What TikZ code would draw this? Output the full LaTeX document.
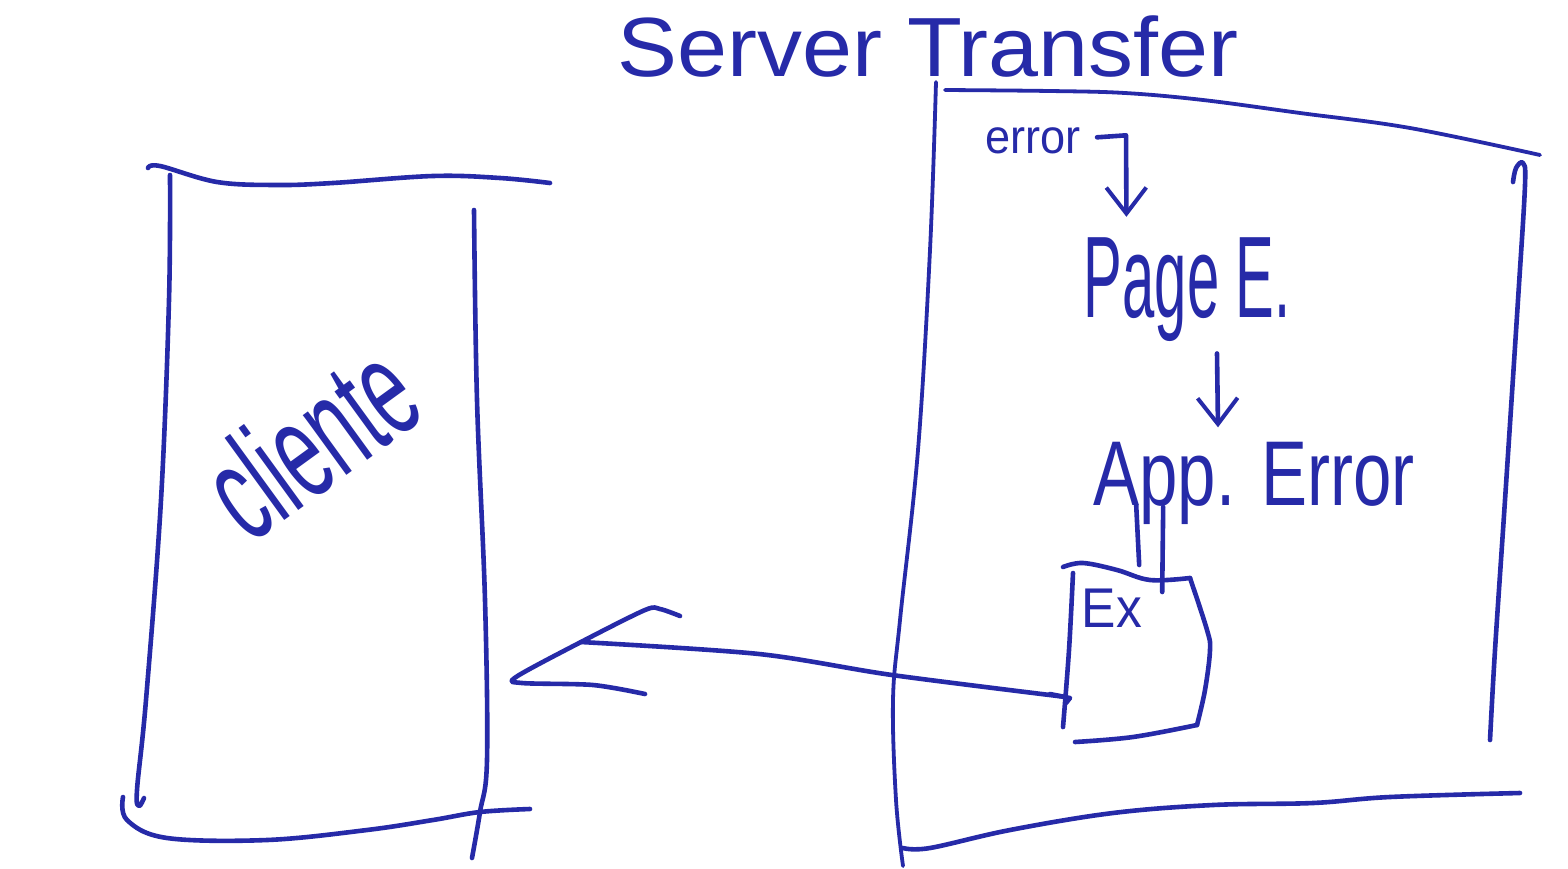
\documentclass[tikz,border=0pt]{standalone}
\usepackage{fontspec}
\setmainfont{Liberation Sans}
\usetikzlibrary{arrows.meta,calc}
\definecolor{ink}{RGB}{38,42,168}
\begin{document}
\begin{tikzpicture}[x=0.5pt,y=-0.5pt,
  pen/.style={draw=ink,line width=2.3pt,line cap=round,line join=round},
  thinpen/.style={draw=ink,line width=1.9pt,line cap=round,line join=round},
  lbl/.style={text=ink,inner sep=0pt,anchor=base},
  barb/.style={pen,-{Straight Barb[length=13pt,width=20pt,line width=2pt]}}]
\useasboundingbox (0,0) rectangle (1568,868);
\fill[white] (0,0) rectangle (1568,868);

% ---------- layout nodes (invisible) ----------
\node[inner sep=0pt,minimum width=150pt,minimum height=320pt] (client) at (312,505) {};
\node[inner sep=0pt,minimum width=300pt,minimum height=380pt] (server) at (1215,470) {};
\node[inner sep=0pt,minimum width=66pt,minimum height=85pt] (exbox) at (1137,655) {};

% ---------- texts ----------
\node[lbl] (title) at (928,76) {\fontsize{42}{42}\selectfont\scalebox{1.07}[1]{Server Transfer}};
\node[lbl] (err) at (1033,153) {\fontsize{24}{24}\selectfont\scalebox{0.94}[1]{error}};
\node[lbl] (page) at (1187,317) {\fontsize{58}{58}\selectfont\scalebox{0.5}[1]{Page E.}};
\node[lbl] (app) at (1254,505) {\fontsize{46}{46}\selectfont\scalebox{0.75}[1]{App. Error}};
\node[lbl] (ex) at (1112,627) {\fontsize{28}{28}\selectfont\scalebox{0.92}[1]{Ex}};
\node[text=ink,inner sep=0pt,rotate=36] (cli) at (310,440) {\fontsize{70}{70}\selectfont\scalebox{0.55}[1]{cliente}};

% ---------- client box ----------
\draw[pen] plot[smooth,tension=0.6] coordinates {(148,168) (160,166) (217,182) (277,185) (333,183) (433,176) (500,178) (550,183)};
\draw[pen] plot[smooth,tension=0.6] coordinates {(170,175) (169,300) (161,500) (146,700) (137,790) (139,806) (144,798)};
\draw[pen] plot[smooth,tension=0.6] coordinates {(474,210) (477,400) (485,600) (487,760) (480,812) (472,858)};
\draw[pen] plot[smooth,tension=0.6] coordinates {(123,797) (127,820) (167,838) (267,840) (367,830) (433,820) (480,812) (530,809)};

% ---------- server box ----------
\draw[thinpen] plot[smooth,tension=0.6] coordinates {(936,82) (930,250) (918,450) (900,620) (893,700) (896,800) (903,866)};
\draw[thinpen] plot[smooth,tension=0.6] coordinates {(945,90) (1050,91) (1125,93) (1203,100) (1300,113) (1410,128) (1540,155)};
\draw[pen] plot[smooth,tension=0.6] coordinates {(1513,182) (1516,168) (1523,163) (1525,185) (1518,300) (1505,500) (1495,650) (1490,740)};
\draw[pen] plot[smooth,tension=0.6] coordinates {(903,848) (930,848) (1010,830) (1113,813) (1213,805) (1313,803) (1390,797) (1520,793)};

% ---------- Ex box ----------
\draw[pen] plot[smooth,tension=0.6] coordinates {(1063,567) (1083,563) (1117,570) (1150,580) (1190,578)};
\draw[pen] plot[smooth,tension=0.6] coordinates {(1190,578) (1207,630) (1210,650) (1205,690) (1197,725)};
\draw[pen] plot[smooth,tension=0.6] coordinates {(1075,742) (1133,737) (1197,725)};
\draw[pen] plot[smooth,tension=0.6] coordinates {(1073,573) (1069,650) (1063,727)};

% ---------- arrows inside server ----------
\coordinate (e1) at ($(err.east)+(16,-3)$);
\draw[barb] (e1) -- ++(29,-2) -- ($(page.north west)+(43,-20)$);
\draw[barb] ($(page.south)+(30,12)$) -- ($(app.north)+(-36,-14)$);

% descenders of App. down to the Ex box
\draw[pen] ($(app.base west)+(43,0)$) -- ++(3,60);
\draw[pen] ($(app.base west)+(70,2)$) -- ++(-1,85);

% ---------- arrow Ex -> client ----------
\coordinate (exL) at (1066,697);
\coordinate (tip) at (516,677);
\coordinate (jn) at (581,642);
\draw[pen] (exL) ++(-16,-3) -- ++(20,4) -- ++(-4,5);
\draw[pen] plot[smooth,tension=0.5] coordinates {(exL) (892,675) (759,654) (jn)};
\draw[pen] plot[smooth,tension=0.5] coordinates {(680,616) (660,609) (645,610) (jn) (tip) (522,683) (593,685) (645,694)};
\end{tikzpicture}
\end{document}
